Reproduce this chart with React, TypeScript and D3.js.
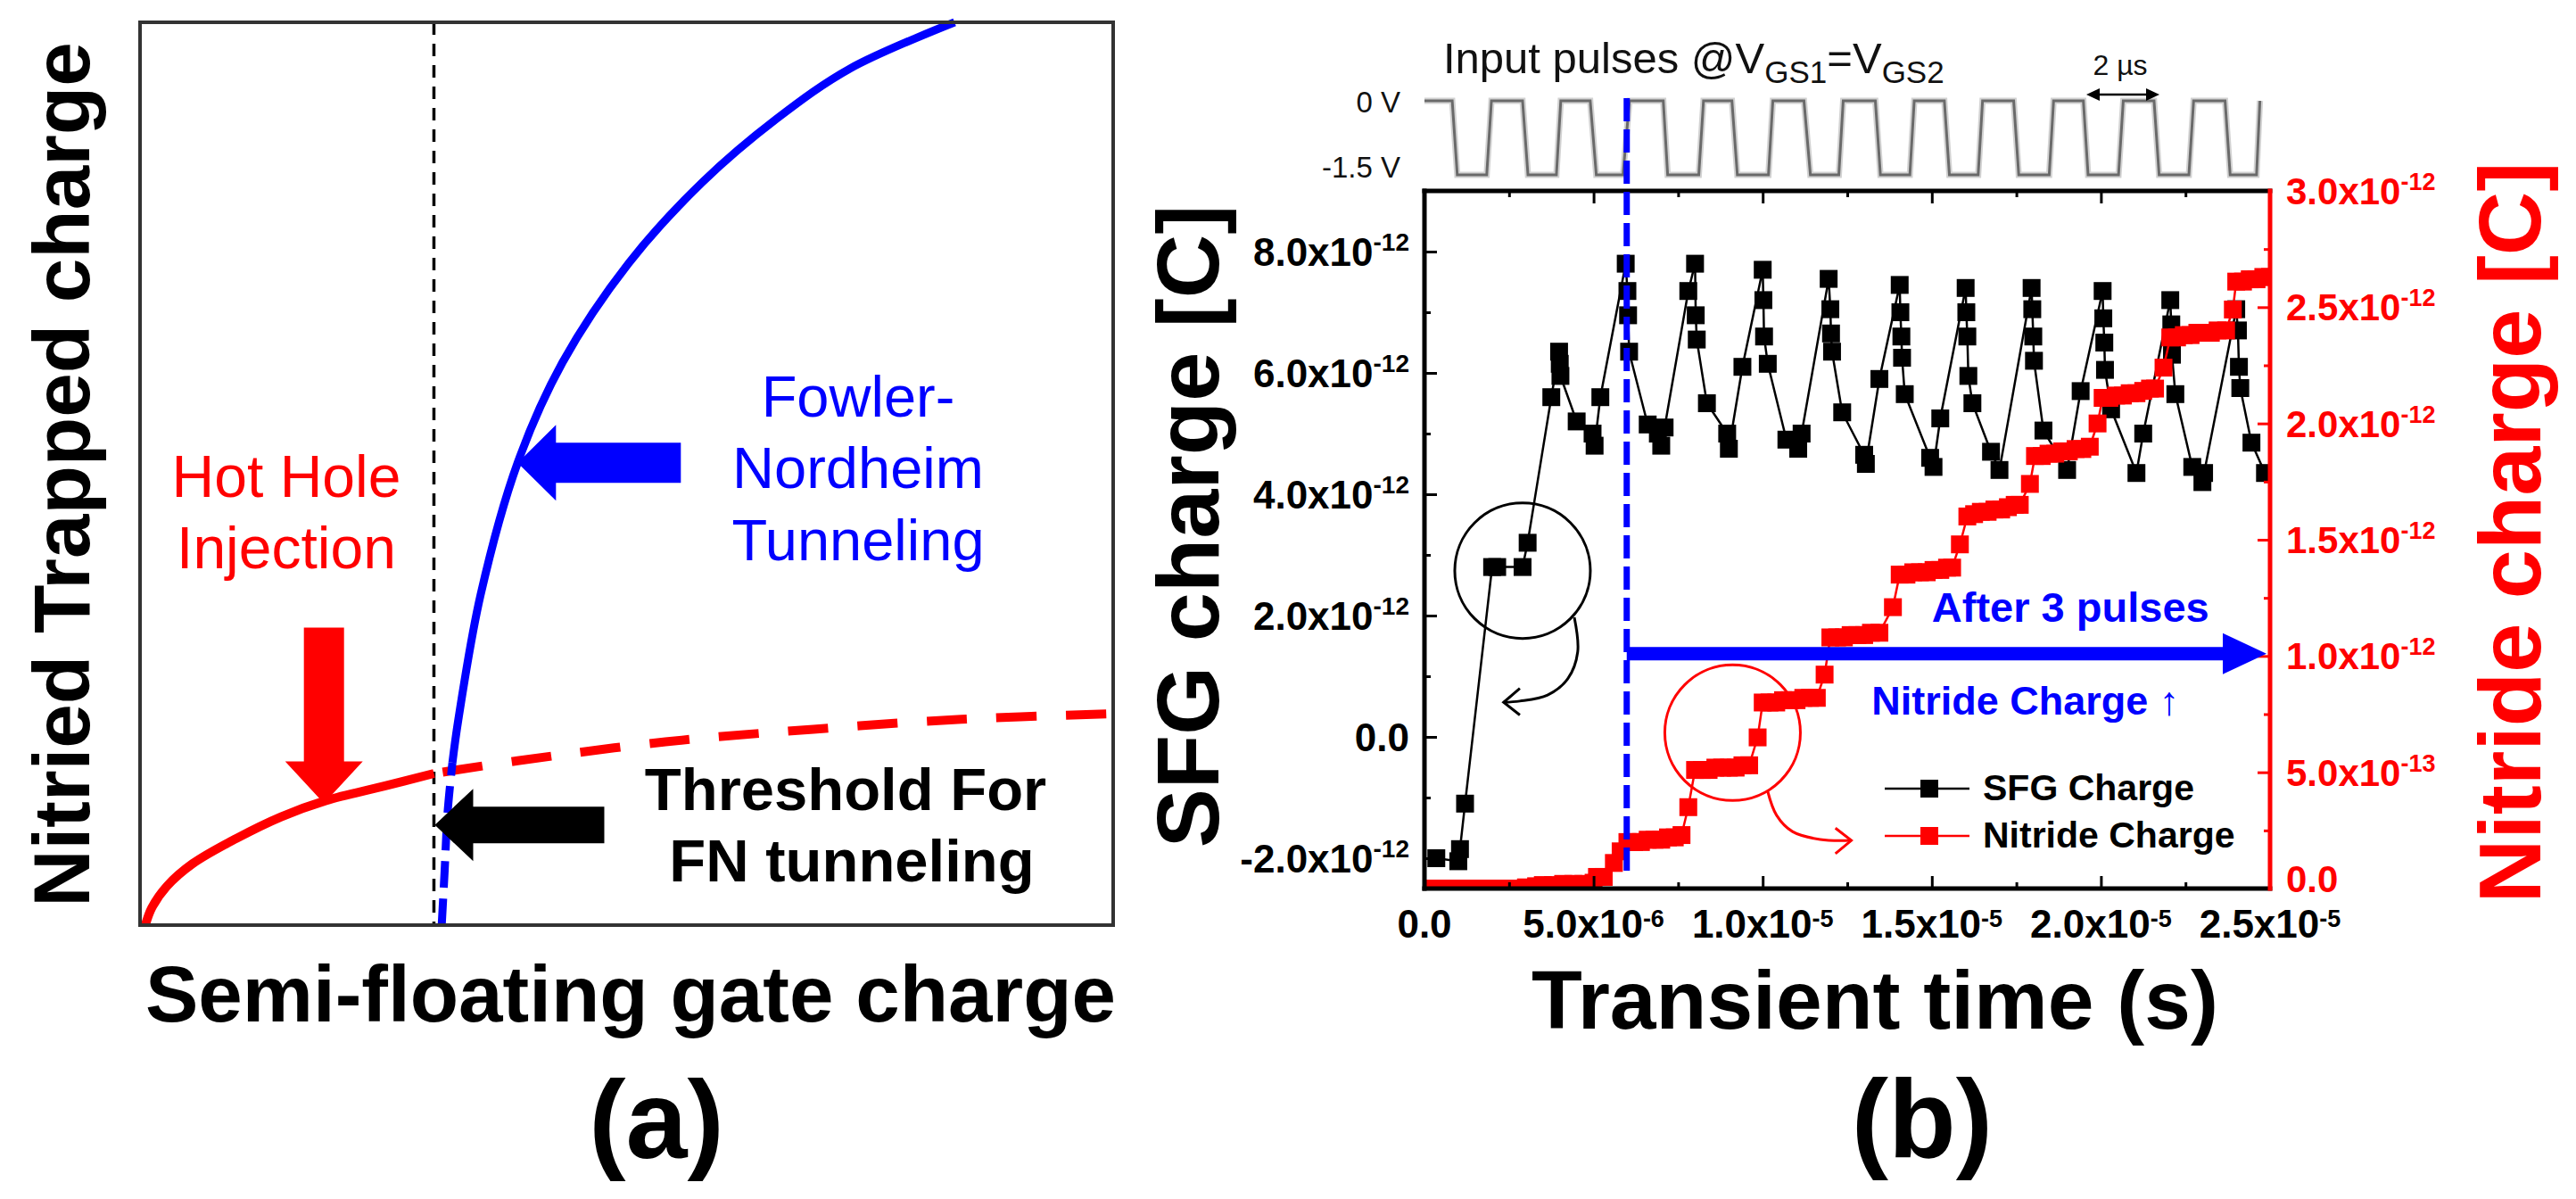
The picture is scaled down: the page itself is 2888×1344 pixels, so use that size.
'use client'
import React, { useEffect, useRef } from 'react';
import * as d3 from 'd3';

type Pt = [number, number];

const FONT = "'Liberation Sans', Arial, Helvetica, sans-serif";
const WIDTH = 2888;
const HEIGHT = 1344;
const BLUE = '#0000ff';
const RED = '#ff0000';

// ---------- panel (a): schematic, both axes normalised 0..1
const thresholdCharge = 0.302;
const hotHoleSolid: Pt[] = [
  [0.0055, 0], [0.012, 0.019], [0.0275, 0.043], [0.054, 0.068], [0.099, 0.096],
  [0.145, 0.12], [0.191, 0.138], [0.251, 0.154], [0.302, 0.168],
];
const hotHoleDashed: Pt[] = [
  [0.302, 0.168], [0.388, 0.182], [0.54, 0.203], [0.692, 0.217], [0.844, 0.228], [0.993, 0.234],
];
const fnBelow: Pt[] = [[0.31, 0], [0.313, 0.06], [0.316, 0.124], [0.321, 0.18]];
const fnAbove: Pt[] = [
  [0.321, 0.18], [0.327, 0.227], [0.35, 0.366], [0.388, 0.512], [0.434, 0.623],
  [0.502, 0.733], [0.578, 0.823], [0.654, 0.893], [0.73, 0.949], [0.837, 1.0],
];

// ---------- panel (b): time in µs, charges in 1e-12 C
const sfgCharge: Pt[] = [
  [0.35, -2.0], [1.0, -2.05], [1.05, -1.85], [1.2, -1.1], [2.0, 2.8], [2.15, 2.8], [2.9, 2.8], [3.05, 3.2],
  [3.75, 5.6], [3.98, 6.35], [4.0, 6.15], [4.02, 5.95], [4.5, 5.2], [4.97, 5.0], [5.03, 4.8], [5.2, 5.6],
  [5.95, 7.8], [6.0, 7.35], [6.02, 6.95], [6.05, 6.35], [6.6, 5.15], [6.9, 5.0], [7.0, 4.8], [7.1, 5.1],
  [7.8, 7.35], [8.0, 7.8], [8.02, 6.95], [8.05, 6.55], [8.35, 5.5], [8.95, 5.0], [9.0, 4.75], [9.4, 6.1],
  [10.0, 7.7], [10.02, 7.2], [10.04, 6.6], [10.15, 6.15], [10.7, 4.9], [11.05, 4.75], [11.15, 5.0],
  [11.95, 7.55], [12.0, 7.05], [12.02, 6.65], [12.05, 6.35], [12.35, 5.35], [13.0, 4.65], [13.05, 4.5],
  [13.45, 5.9], [14.05, 7.45], [14.07, 7.0], [14.1, 6.6], [14.12, 6.25], [14.2, 5.65], [14.95, 4.6],
  [15.05, 4.45], [15.25, 5.25], [16.0, 7.4], [16.02, 7.0], [16.05, 6.6], [16.08, 5.95], [16.2, 5.5],
  [16.75, 4.7], [17.0, 4.4], [17.95, 7.4], [17.97, 7.05], [18.0, 6.6], [18.02, 6.2], [18.3, 5.05],
  [19.0, 4.4], [19.4, 5.7], [20.05, 7.35], [20.07, 6.9], [20.1, 6.5], [20.12, 6.05], [20.3, 5.4],
  [21.05, 4.35], [21.25, 5.0], [22.05, 7.2], [22.08, 6.8], [22.1, 6.3], [22.2, 5.65], [22.7, 4.45],
  [23.0, 4.2], [23.05, 4.35], [24.0, 7.05], [24.05, 6.7], [24.08, 6.1], [24.12, 5.75], [24.45, 4.85],
  [24.85, 4.35],
];
const nitrideCharge: Pt[] = [
  [0.0, 0.0], [0.3, 0.0], [0.6, 0.0], [0.9, 0.0], [1.2, 0.0], [1.5, 0.0], [1.8, 0.0], [2.1, 0.0],
  [2.4, 0.0], [2.7, 0.0], [3.0, 0.005], [3.3, 0.01], [3.5, 0.015], [3.8, 0.015], [4.1, 0.02], [4.4, 0.02],
  [4.7, 0.02], [5.0, 0.025], [5.1, 0.05], [5.3, 0.05], [5.6, 0.11], [5.8, 0.16],
  [6.0, 0.2], [6.2, 0.2], [6.4, 0.2], [6.6, 0.21], [6.8, 0.21], [7.0, 0.21], [7.2, 0.22], [7.4, 0.22], [7.6, 0.23],
  [7.8, 0.35],
  [8.0, 0.51], [8.2, 0.51], [8.4, 0.51], [8.6, 0.52], [8.8, 0.52], [9.0, 0.52], [9.2, 0.52], [9.4, 0.53], [9.6, 0.53],
  [9.85, 0.65],
  [10.0, 0.8], [10.2, 0.8], [10.4, 0.8], [10.6, 0.81], [10.8, 0.81], [11.0, 0.81], [11.2, 0.82], [11.4, 0.82], [11.6, 0.82],
  [11.83, 0.92],
  [12.0, 1.08], [12.2, 1.08], [12.4, 1.08], [12.6, 1.09], [12.8, 1.09], [13.0, 1.09], [13.2, 1.1], [13.45, 1.1],
  [13.85, 1.21],
  [14.05, 1.35], [14.25, 1.35], [14.45, 1.36], [14.65, 1.36], [14.85, 1.36], [15.05, 1.37], [15.25, 1.37], [15.45, 1.38], [15.6, 1.38],
  [15.83, 1.48],
  [16.05, 1.6], [16.25, 1.61], [16.45, 1.62], [16.65, 1.62], [16.85, 1.63], [17.05, 1.63], [17.25, 1.64], [17.45, 1.65], [17.6, 1.65],
  [17.9, 1.74],
  [18.05, 1.86], [18.25, 1.86], [18.45, 1.87], [18.65, 1.87], [18.85, 1.88], [19.05, 1.88], [19.25, 1.89], [19.45, 1.89], [19.67, 1.9],
  [19.9, 2.0],
  [20.05, 2.11], [20.25, 2.11], [20.45, 2.12], [20.65, 2.12], [20.85, 2.13], [21.05, 2.13], [21.25, 2.14], [21.45, 2.15], [21.6, 2.15],
  [21.85, 2.24],
  [22.05, 2.37], [22.25, 2.37], [22.45, 2.38], [22.65, 2.38], [22.85, 2.39], [23.05, 2.39], [23.25, 2.39], [23.45, 2.4], [23.7, 2.4],
  [23.9, 2.49],
  [24.0, 2.61], [24.2, 2.61], [24.4, 2.62], [24.6, 2.62], [24.8, 2.63], [25.0, 2.63],
];
// input pulse train drawn above the plot, time in µs, level in V
const inputPulse: Pt[] = [
  [0, 0], [0.82, 0], [0.97, -1.5], [1.84, -1.5], [1.98, 0], [2.9, 0], [3.06, -1.5], [3.9, -1.5], [4.03, 0],
  [4.9, 0], [5.08, -1.5], [5.87, -1.5], [6.06, 0], [7.06, 0], [7.19, -1.5], [8.11, -1.5], [8.25, 0],
  [9.09, 0], [9.25, -1.5], [10.17, -1.5], [10.3, 0], [11.22, 0], [11.41, -1.5], [12.25, -1.5], [12.38, 0],
  [13.33, 0], [13.48, -1.5], [14.35, -1.5], [14.48, 0], [15.37, 0], [15.52, -1.5], [16.37, -1.5], [16.5, 0],
  [17.42, 0], [17.57, -1.5], [18.47, -1.5], [18.6, 0], [19.48, 0], [19.62, -1.5], [20.52, -1.5], [20.66, 0],
  [21.57, 0], [21.72, -1.5], [22.6, -1.5], [22.74, 0], [23.67, 0], [23.82, -1.5], [24.6, -1.5], [24.7, 0],
];
const pulseStart = 5.98;

const timeTicks = [0, 5, 10, 15, 20, 25];
const timeMinor = [2.5, 7.5, 12.5, 17.5, 22.5];
const timeTickLabels: [string, string][] = [
  ['0.0', ''], ['5.0x10', '-6'], ['1.0x10', '-5'], ['1.5x10', '-5'], ['2.0x10', '-5'], ['2.5x10', '-5'],
];
const sfgTicks = [-2, 0, 2, 4, 6, 8];
const sfgMinor = [-1, 1, 3, 5, 7];
const sfgTickLabels: [string, string][] = [
  ['-2.0x10', '-12'], ['0.0', ''], ['2.0x10', '-12'], ['4.0x10', '-12'], ['6.0x10', '-12'], ['8.0x10', '-12'],
];
const nitrideTicks = [0, 0.5, 1, 1.5, 2, 2.5, 3];
const nitrideMinor = [0.25, 0.75, 1.25, 1.75, 2.25, 2.75];
const nitrideTickLabels: [string, string][] = [
  ['0.0', ''], ['5.0x10', '-13'], ['1.0x10', '-12'], ['1.5x10', '-12'], ['2.0x10', '-12'], ['2.5x10', '-12'], ['3.0x10', '-12'],
];

const arrowLeft = (tx: number, ty: number, head: number, headHalf: number, shaftHalf: number, len: number): Pt[] => [
  [tx, ty], [tx + head, ty - headHalf], [tx + head, ty - shaftHalf], [tx + len, ty - shaftHalf],
  [tx + len, ty + shaftHalf], [tx + head, ty + shaftHalf], [tx + head, ty + headHalf],
];
const arrowDown = (tx: number, ty: number, head: number, headHalf: number, shaftHalf: number, len: number): Pt[] => [
  [tx, ty], [tx - headHalf, ty - head], [tx - shaftHalf, ty - head], [tx - shaftHalf, ty - len],
  [tx + shaftHalf, ty - len], [tx + shaftHalf, ty - head], [tx + headHalf, ty - head],
];
const poly = (p: Pt[]) => 'M' + p.map(d => d.join(',')).join('L') + 'Z';

const App: React.FC = () => {
  const svgRef = useRef<SVGSVGElement>(null);

  useEffect(() => {
    const svg = d3.select(svgRef.current);
    svg.selectAll('*').remove();
    svg.append('rect').attr('width', WIDTH).attr('height', HEIGHT).attr('fill', '#fff');

    const txt = (g: any, x: number, y: number, s: string, size: number, opts: any = {}) =>
      g.append('text').attr('x', x).attr('y', y).text(s)
        .attr('font-family', FONT).attr('font-size', size)
        .attr('font-weight', opts.bold ? 'bold' : 'normal')
        .attr('fill', opts.fill || '#000')
        .attr('text-anchor', opts.anchor || 'middle');

    // ================= panel (a)
    const xa = d3.scaleLinear().domain([0, 1]).range([157, 1248]);
    const ya = d3.scaleLinear().domain([0, 1]).range([1037, 25]);
    const lineA = d3.line<Pt>().x(d => xa(d[0])).y(d => ya(d[1])).curve(d3.curveCatmullRom.alpha(0.5));
    const gA = svg.append('g');

    gA.append('line').attr('x1', xa(thresholdCharge)).attr('x2', xa(thresholdCharge))
      .attr('y1', ya(1)).attr('y2', ya(0))
      .attr('stroke', '#000').attr('stroke-width', 3.5).attr('stroke-dasharray', '14 10');

    gA.append('path').attr('d', lineA(hotHoleSolid)).attr('fill', 'none').attr('stroke', RED).attr('stroke-width', 10);
    gA.append('path').attr('d', lineA(hotHoleDashed)).attr('fill', 'none').attr('stroke', RED).attr('stroke-width', 10)
      .attr('stroke-dasharray', '45 33').attr('stroke-dashoffset', 68);
    gA.append('path').attr('d', lineA(fnBelow)).attr('fill', 'none').attr('stroke', BLUE).attr('stroke-width', 9)
      .attr('stroke-dasharray', '30 12');
    gA.append('path').attr('d', lineA(fnAbove)).attr('fill', 'none').attr('stroke', BLUE).attr('stroke-width', 9);

    // block arrows
    gA.append('path').attr('d', poly(arrowLeft(xa(0.388), ya(0.512), 43, 42.5, 22.5, 183))).attr('fill', BLUE);
    gA.append('path').attr('d', poly(arrowDown(xa(0.189), ya(0.135), 47, 43.5, 22.5, 197))).attr('fill', RED);
    gA.append('path').attr('d', poly(arrowLeft(xa(thresholdCharge) + 1, ya(0.111), 43, 40.5, 20.5, 190))).attr('fill', '#000');

    gA.append('rect').attr('x', xa(0)).attr('y', ya(1)).attr('width', xa(1) - xa(0)).attr('height', ya(0) - ya(1))
      .attr('fill', 'none').attr('stroke', '#333').attr('stroke-width', 4);

    txt(gA, 321, 557, 'Hot Hole', 66, { fill: RED });
    txt(gA, 321, 637, 'Injection', 66, { fill: RED });
    txt(gA, 962, 467, 'Fowler-', 65, { fill: BLUE });
    txt(gA, 962, 547, 'Nordheim', 65, { fill: BLUE });
    txt(gA, 962, 628, 'Tunneling', 65, { fill: BLUE });
    txt(gA, 948, 908, 'Threshold For', 67, { bold: true });
    txt(gA, 955, 988, 'FN tunneling', 67, { bold: true });

    txt(gA, 0, 0, 'Nitried Trapped charge', 89, { bold: true }).attr('transform', 'translate(100,532) rotate(-90)');
    txt(gA, 707, 1145, 'Semi-floating gate charge', 89, { bold: true });
    txt(gA, 736, 1298, '(a)', 124, { bold: true });

    // ================= panel (b)
    const x = d3.scaleLinear().domain([0, 25]).range([1597, 2545]);
    const yS = d3.scaleLinear().domain([-2.5, 9]).range([996, 214]);
    const yN = d3.scaleLinear().domain([0, 3]).range([996, 214]);
    const yP = d3.scaleLinear().domain([-1.5, 0]).range([196, 113]);
    const gB = svg.append('g');

    // input pulses
    const pulseLine = d3.line<Pt>().x(d => x(d[0])).y(d => yP(d[1]));
    gB.append('path').attr('d', pulseLine(inputPulse)).attr('fill', 'none').attr('stroke', '#d2d2d2').attr('stroke-width', 7);
    gB.append('path').attr('d', pulseLine(inputPulse)).attr('fill', 'none').attr('stroke', '#6a6a6a').attr('stroke-width', 3);
    txt(gB, 1570, 126, '0 V', 33, { anchor: 'end', fill: '#111' });
    txt(gB, 1570, 199, '-1.5 V', 33, { anchor: 'end', fill: '#111' });

    const title = gB.append('text').attr('x', 1618).attr('y', 82).attr('font-family', FONT)
      .attr('font-size', 49).attr('fill', '#111');
    title.append('tspan').text('Input pulses @V');
    title.append('tspan').attr('dy', 11).attr('font-size', 35).text('GS1');
    title.append('tspan').attr('dy', -11).text('=V');
    title.append('tspan').attr('dy', 11).attr('font-size', 35).text('GS2');

    txt(gB, 2377, 84, '2 µs', 32, { fill: '#111' });
    gB.append('line').attr('x1', 2352).attr('x2', 2408).attr('y1', 106).attr('y2', 106).attr('stroke', '#000').attr('stroke-width', 2.5);
    gB.append('path').attr('d', poly([[2339, 106], [2354, 99], [2354, 113]])).attr('fill', '#000');
    gB.append('path').attr('d', poly([[2421, 106], [2406, 99], [2406, 113]])).attr('fill', '#000');

    // plot area clip
    svg.append('defs').append('clipPath').attr('id', 'plotClip')
      .append('rect').attr('x', 1597).attr('y', 214).attr('width', 948).attr('height', 782);
    const plot = gB.append('g').attr('clip-path', 'url(#plotClip)');

    const sfgLine = d3.line<Pt>().x(d => x(d[0])).y(d => yS(d[1]));
    const nitLine = d3.line<Pt>().x(d => x(d[0])).y(d => yN(d[1]));
    const M = 20;

    plot.append('path').attr('d', sfgLine(sfgCharge)).attr('fill', 'none').attr('stroke', '#000').attr('stroke-width', 2.5);
    plot.selectAll('rect.sfg').data(sfgCharge).enter().append('rect').attr('class', 'sfg')
      .attr('x', d => x(d[0]) - M / 2).attr('y', d => yS(d[1]) - M / 2).attr('width', M).attr('height', M).attr('fill', '#000');

    plot.append('path').attr('d', nitLine(nitrideCharge)).attr('fill', 'none').attr('stroke', RED).attr('stroke-width', 2.5);
    plot.selectAll('rect.nit').data(nitrideCharge).enter().append('rect').attr('class', 'nit')
      .attr('x', d => x(d[0]) - M / 2).attr('y', d => yN(d[1]) - M / 2).attr('width', M).attr('height', M).attr('fill', RED);

    // ticks
    const tickAxis = (gen: any, tr: string, vals: number[], size: number, color: string) => {
      const g = gB.append('g').attr('transform', tr)
        .call(gen.tickValues(vals).tickSizeInner(-size).tickSizeOuter(0).tickFormat(() => ''));
      g.select('.domain').remove();
      g.selectAll('line').attr('stroke', color).attr('stroke-width', 3);
    };
    tickAxis(d3.axisBottom(x), 'translate(0,996)', timeTicks, 14, '#000');
    tickAxis(d3.axisBottom(x), 'translate(0,996)', timeMinor, 7, '#000');
    tickAxis(d3.axisTop(x), 'translate(0,214)', timeTicks, 14, '#000');
    tickAxis(d3.axisTop(x), 'translate(0,214)', timeMinor, 7, '#000');
    tickAxis(d3.axisLeft(yS), 'translate(1597,0)', sfgTicks, 14, '#000');
    tickAxis(d3.axisLeft(yS), 'translate(1597,0)', sfgMinor, 7, '#000');
    tickAxis(d3.axisRight(yN), 'translate(2545,0)', nitrideTicks, 14, RED);
    tickAxis(d3.axisRight(yN), 'translate(2545,0)', nitrideMinor, 7, RED);

    // frame
    const frame = (x1: number, y1: number, x2: number, y2: number, c: string) =>
      gB.append('line').attr('x1', x1).attr('y1', y1).attr('x2', x2).attr('y2', y2)
        .attr('stroke', c).attr('stroke-width', 5).attr('stroke-linecap', 'square');
    frame(1597, 214, 2545, 214, '#000');
    frame(1597, 996, 2545, 996, '#000');
    frame(1597, 214, 1597, 996, '#000');
    frame(2545, 214, 2545, 996, RED);

    // tick labels
    const supText = (px: number, py: number, lab: [string, string], anchor: string, fill: string,
      size: number, supSize: number, rise: number) => {
      const t = gB.append('text').attr('x', px).attr('y', py).attr('text-anchor', anchor).attr('fill', fill)
        .attr('font-family', FONT).attr('font-size', size).attr('font-weight', 'bold');
      t.append('tspan').text(lab[0]);
      if (lab[1]) t.append('tspan').attr('dy', -rise).attr('font-size', supSize).text(lab[1]);
    };
    timeTicks.forEach((v, i) => supText(x(v), 1051, timeTickLabels[i], 'middle', '#000', 44, 27, 12));
    sfgTicks.forEach((v, i) => supText(1580, yS(v) + 16, sfgTickLabels[i], 'end', '#000', 44, 28, 17));
    nitrideTicks.forEach((v, i) => supText(2563, yN(v) + (v === 0 ? 4 : 15), nitrideTickLabels[i], 'start', RED, 42, 27, 16));

    // "after 3 pulses" marker
    gB.append('line').attr('x1', x(pulseStart)).attr('x2', x(pulseStart)).attr('y1', 110).attr('y2', 984)
      .attr('stroke', BLUE).attr('stroke-width', 7).attr('stroke-dasharray', '26 9');
    const ay3 = yN(1.01);
    gB.append('path').attr('d', poly([
      [x(pulseStart), ay3 - 7.5], [2492, ay3 - 7.5], [2492, ay3 - 23], [2541, ay3],
      [2492, ay3 + 23], [2492, ay3 + 7.5], [x(pulseStart), ay3 + 7.5],
    ])).attr('fill', BLUE);
    txt(gB, x(19.1), yN(1.147), 'After 3 pulses', 47, { bold: true, fill: BLUE });
    const nc = txt(gB, x(13.22), yN(0.748), 'Nitride Charge ', 45, { bold: true, fill: BLUE, anchor: 'start' });
    nc.append('tspan').attr('font-weight', 'normal').text('↑');

    // zoom circles with curved arrows
    gB.append('circle').attr('cx', x(2.9)).attr('cy', yS(2.74)).attr('r', 76)
      .attr('fill', 'none').attr('stroke', '#000').attr('stroke-width', 3);
    const curve = d3.line<Pt>().curve(d3.curveCatmullRom.alpha(0.5));
    const blackArc: Pt[] = [[4.43, 1.97], [4.53, 1.4], [4.24, 0.96], [3.64, 0.69], [2.82, 0.59], [2.34, 0.57]];
    gB.append('path').attr('d', curve(blackArc.map(d => [x(d[0]), yS(d[1])] as Pt)))
      .attr('fill', 'none').attr('stroke', '#000').attr('stroke-width', 3);
    gB.append('path').attr('d', d3.line()([[x(2.82), yS(0.8)], [x(2.34), yS(0.57)], [x(2.82), yS(0.36)]]))
      .attr('fill', 'none').attr('stroke', '#000').attr('stroke-width', 3);

    gB.append('circle').attr('cx', x(9.11)).attr('cy', yN(0.67)).attr('r', 76)
      .attr('fill', 'none').attr('stroke', RED).attr('stroke-width', 3);
    const redArc: Pt[] = [[10.14, 0.422], [10.41, 0.315], [10.88, 0.245], [11.7, 0.211], [12.6, 0.207]];
    gB.append('path').attr('d', curve(redArc.map(d => [x(d[0]), yN(d[1])] as Pt)))
      .attr('fill', 'none').attr('stroke', RED).attr('stroke-width', 3);
    gB.append('path').attr('d', d3.line()([[x(12.15), yN(0.26)], [x(12.62), yN(0.207)], [x(12.15), yN(0.15)]]))
      .attr('fill', 'none').attr('stroke', RED).attr('stroke-width', 3);

    // legend
    const legend = [
      { label: 'SFG Charge', color: '#000', y: 884 },
      { label: 'Nitride Charge', color: RED, y: 937 },
    ];
    legend.forEach(l => {
      gB.append('line').attr('x1', 2113).attr('x2', 2208).attr('y1', l.y).attr('y2', l.y).attr('stroke', l.color).attr('stroke-width', 2.5);
      gB.append('rect').attr('x', 2163 - M / 2).attr('y', l.y - M / 2).attr('width', M).attr('height', M).attr('fill', l.color);
      txt(gB, 2223, l.y + 13, l.label, 41, { bold: true, anchor: 'start' });
    });

    // axis titles
    txt(gB, 0, 0, 'SFG charge [C]', 99, { bold: true }).attr('transform', 'translate(1366,590) rotate(-90)');
    txt(gB, 0, 0, 'Nitride charge [C]', 99, { bold: true, fill: RED }).attr('transform', 'translate(2848,597) rotate(-90)');
    txt(gB, 2102, 1153, 'Transient time (s)', 93, { bold: true });
    txt(gB, 2155, 1297, '(b)', 124, { bold: true });
  }, []);

  return (
    <svg ref={svgRef} width={WIDTH} height={HEIGHT} viewBox={`0 0 ${WIDTH} ${HEIGHT}`}
      style={{ position: 'absolute', left: 0, top: 0, display: 'block' }} />
  );
};

export default App;
